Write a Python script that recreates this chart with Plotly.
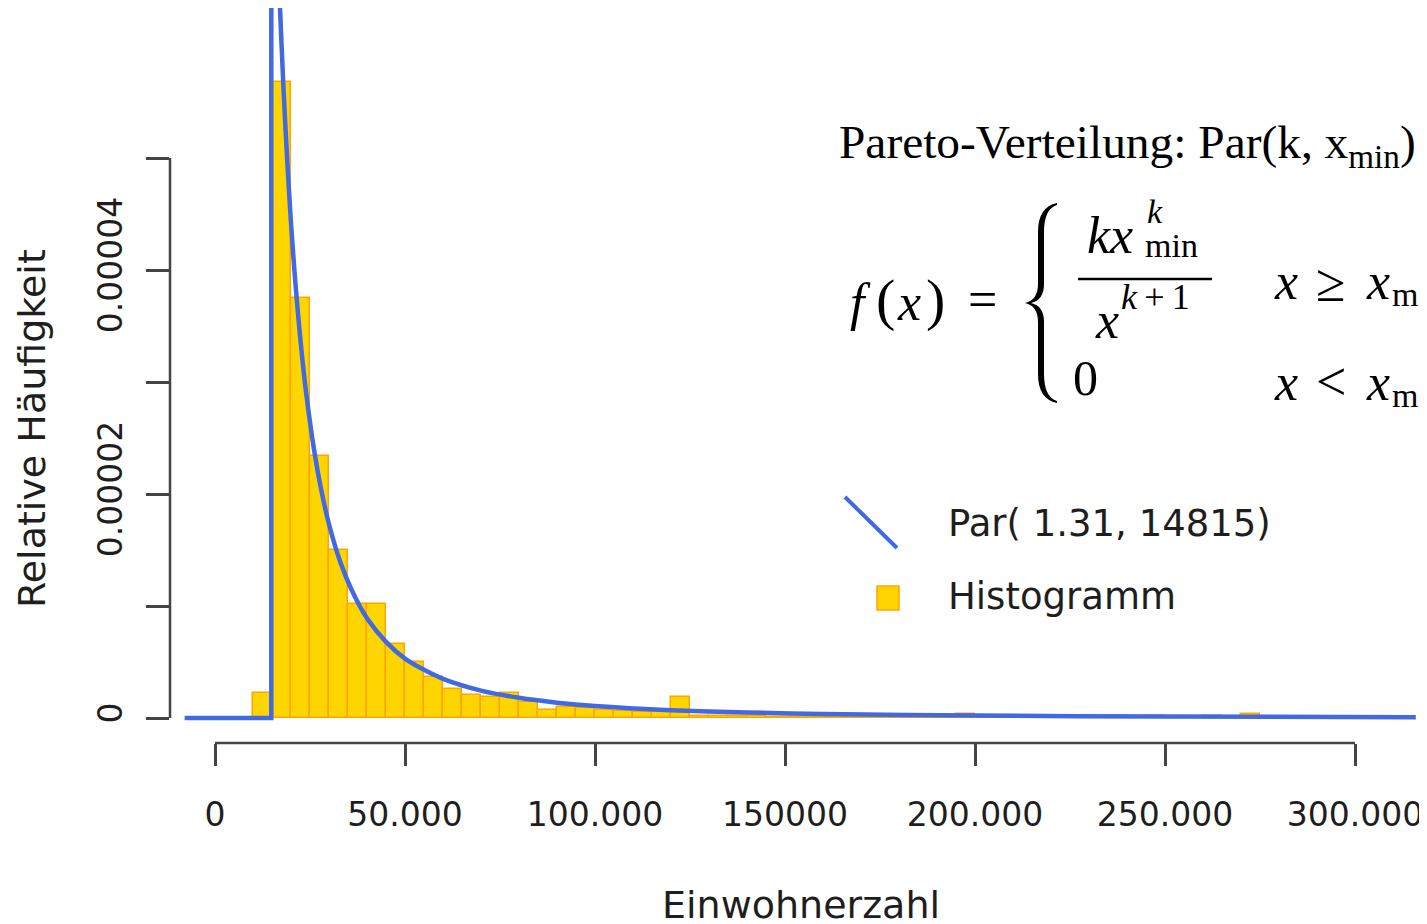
import plotly.graph_objects as go

# ---------------- data ----------------
bin_width = 5000
bin_starts = list(range(10000, 310000, 5000))
# histogram density values in units of 1e-6
hist_vals_e6 = [2.2, 56.8, 37.5, 23.4, 15.0, 10.2, 10.2, 6.6, 5.0, 3.7,
                2.6, 2.05, 1.9, 2.2, 1.4, 0.7, 1.0, 0.9, 0.7, 0.6,
                0.5, 0.5, 1.9, 0.2, 0.2, 0.15, 0.15, 0.1, 0.1, 0.1,
                0.05, 0.1, 0.05, 0.1, 0.05, 0.2, 0.0, 0.4, 0.0, 0.0,
                0.2, 0.0, 0.2, 0.0, 0.0, 0.2, 0.0, 0.2, 0.0, 0.0,
                0.2, 0.0, 0.4, 0.0, 0.1, 0.0, 0.0, 0.0, 0.0, 0.1]

# fitted Pareto density (y in units of 1e-5)
# left part: zero line and the jump at x_min
jump_x = [-8000, 14815, 14815]
jump_y_e5 = [0, 0, 8.84]
# decaying part
curve_x = [14815, 15500, 16200, 17000, 18000, 19000, 20000, 21000,
           22000, 23000, 24000, 26000, 28000, 30000, 33000, 36000, 40000, 45000,
           50000, 55000, 60000, 70000, 80000, 90000, 100000, 120000, 140000,
           160000, 200000, 250000, 316000]
curve_y_e5 = [8.84, 7.97, 7.19, 6.43, 5.64, 4.98, 4.42, 3.95,
              3.55, 3.20, 2.90, 2.41, 2.03, 1.73, 1.39, 1.14, 0.89, 0.68,
              0.53, 0.43, 0.35, 0.245, 0.18, 0.137, 0.107, 0.070, 0.049,
              0.036, 0.022, 0.013, 0.0075]

x_tickvals = [0, 50000, 100000, 150000, 200000, 250000, 300000]
x_ticktext = ["0", "50.000", "100.000", "150000", "200.000", "250.000", "300.000"]
y_tickvals = [0, 0.00002, 0.00004]
y_ticktext = ["0", "0.00002", "0.00004"]
y_minor_tickvals = [0.00001, 0.00003, 0.00005]

legend_line_label = "Par( 1.31, 14815)"
legend_hist_label = "Histogramm"
x_title = "Einwohnerzahl"
y_title = "Relative Häufigkeit"

# ---------------- styling ----------------
GOLD = "#FFD500"
ORANGE = "#FFA500"
BLUE = "#4169E1"
AX = "#444444"
TXT = "#1e1e1e"
SANS = "DejaVu Sans"
SERIF = "Liberation Serif"

# the page body adds an 8px margin, so the figure is 8px smaller
OFF = 8
FIG_W, FIG_H = 1427 - OFF, 924 - OFF
# plot area in screen pixels (reference picture)
L, R, T, B = 170, 1427, 8, 743
PW, PH = R - L, B - T


def px(x):
    return (x - L) / PW


def py(y):
    return (B - y) / PH


bin_centers = [s + bin_width / 2 for s in bin_starts]
hist_vals = [v * 1e-6 for v in hist_vals_e6]

fig = go.Figure()
fig.add_trace(go.Bar(x=bin_centers, y=hist_vals, width=bin_width,
                     marker=dict(color=GOLD, line=dict(color=ORANGE, width=1.5)),
                     showlegend=False, hoverinfo="skip"))
fig.add_trace(go.Scatter(x=jump_x, y=[v * 1e-5 for v in jump_y_e5], mode="lines",
                         line=dict(color=BLUE, width=4.5),
                         showlegend=False, hoverinfo="skip"))
fig.add_trace(go.Scatter(x=curve_x, y=[v * 1e-5 for v in curve_y_e5], mode="lines",
                         line=dict(color=BLUE, width=4.5, shape="spline", smoothing=0.8),
                         showlegend=False, hoverinfo="skip"))

# axis ranges chosen so that x=0 sits at 215px, 300000 at 1355px; y=0 at 718px
x_per_px = 300000 / (1355 - 215)
x_range = [(L - 215) * x_per_px, (R - 215) * x_per_px]
y_per_px = 0.00002 / (718 - 494)
y_range = [-(B - 718) * y_per_px, (718 - T) * y_per_px]

fig.update_layout(
    width=FIG_W, height=FIG_H,
    margin=dict(l=L - OFF, r=FIG_W - (R - OFF), t=T - OFF, b=FIG_H - (B - OFF), pad=0),
    paper_bgcolor="white", plot_bgcolor="white",
    bargap=0,
    xaxis=dict(range=x_range, tickvals=x_tickvals, ticktext=x_ticktext,
               ticks="outside", ticklen=22, tickwidth=2.5, tickcolor=AX,
               showgrid=False, zeroline=False, showline=False,
               tickfont=dict(family=SANS, size=33, color=TXT),
               ticklabelstandoff=20),
    yaxis=dict(range=y_range, tickvals=y_tickvals, ticktext=y_ticktext,
               ticks="outside", ticklen=23, tickwidth=2.5, tickcolor=AX,
               showgrid=False, zeroline=False, showline=False,
               tickangle=-90,
               tickfont=dict(family=SANS, size=33, color=TXT),
               ticklabelstandoff=11,
               minor=dict(tickmode="array", tickvals=y_minor_tickvals,
                          ticks="outside", ticklen=23, tickwidth=2.5,
                          tickcolor=AX, showgrid=False)),
)

shapes = []
# R-style axis lines
shapes.append(dict(type="line", xref="x", yref="paper", x0=0, x1=300000, y0=0, y1=0,
                   line=dict(color=AX, width=2.5)))
shapes.append(dict(type="line", xref="paper", yref="y", x0=0, x1=0, y0=0, y1=0.00005,
                   line=dict(color=AX, width=2.5)))
# legend symbols
shapes.append(dict(type="line", xref="paper", yref="paper",
                   x0=px(845), y0=py(497), x1=px(897), y1=py(548),
                   line=dict(color=BLUE, width=4)))
shapes.append(dict(type="rect", xref="paper", yref="paper",
                   x0=px(877), y0=py(586), x1=px(899), y1=py(610),
                   fillcolor=GOLD, line=dict(color=ORANGE, width=1.5)))
# fraction bar
shapes.append(dict(type="line", xref="paper", yref="paper",
                   x0=px(1078), y0=py(279), x1=px(1212), y1=py(279),
                   line=dict(color="black", width=2.4)))


# curly brace (filled path)
def P(x, y):
    return f"{px(x):.5f},{py(y):.5f}"


brace = ("M " + P(1057, 203) +
         " Q " + P(1038, 207) + " " + P(1038, 232) +
         " L " + P(1038, 284) +
         " Q " + P(1038, 300) + " " + P(1025, 303) +
         " Q " + P(1038, 306) + " " + P(1038, 322) +
         " L " + P(1038, 374) +
         " Q " + P(1038, 399) + " " + P(1057, 403) +
         " L " + P(1057, 401) +
         " Q " + P(1044, 397) + " " + P(1044, 374) +
         " L " + P(1044, 322) +
         " Q " + P(1044, 306) + " " + P(1031, 303) +
         " Q " + P(1044, 300) + " " + P(1044, 284) +
         " L " + P(1044, 232) +
         " Q " + P(1044, 209) + " " + P(1057, 205) + " Z")
shapes.append(dict(type="path", xref="paper", yref="paper", path=brace,
                   fillcolor="black", line=dict(width=0)))
fig.update_layout(shapes=shapes)

annotations = []


def ann(text, x, y, size, family=SERIF, xanchor="left", color="black", angle=0):
    annotations.append(dict(text=text, x=px(x), y=py(y), xref="paper", yref="paper",
                            xanchor=xanchor, yanchor="middle", showarrow=False,
                            textangle=angle,
                            font=dict(family=family, size=size, color=color)))


# axis titles
ann(x_title, 801, 905, 38, SANS, "center", TXT)
ann(y_title, 32, 429, 38, SANS, "center", TXT, -90)
# legend texts
ann(legend_line_label, 946, 523, 37, SANS, "left", TXT)
ann(legend_hist_label, 946, 596, 37, SANS, "left", TXT)

# formula block
ann("Pareto-Verteilung: Par(k, x<sub>min</sub>)", 837, 145, 47.4)
ann("<i>f</i>", 860, 302, 52, xanchor="center")
ann("(", 885, 299, 58, xanchor="center")
ann("<i>x</i>", 909, 302, 52, xanchor="center")
ann(")", 935, 299, 58, xanchor="center")
ann("=", 982, 300, 52, xanchor="center")
ann("<i>kx</i>", 1085, 236, 52)
ann("<i>k</i>", 1145, 211, 34)
ann("min", 1143, 246, 34)
ann("<i>x</i>", 1093, 320, 52)
ann("<i>k</i>\u2009+\u20091", 1119, 297, 36)
ann("0", 1071, 378, 50)
ann("<i>x</i>", 1272, 281, 52)
ann("≥", 1331, 283, 54, xanchor="center")
ann("<i>x</i>", 1364, 281, 52)
ann("min", 1390, 294, 34)
ann("<i>x</i>", 1272, 382, 52)
ann("<", 1331, 382, 54, xanchor="center")
ann("<i>x</i>", 1364, 382, 52)
ann("min", 1390, 395, 34)

fig.update_layout(annotations=annotations)

fig.write_html("out.html")
